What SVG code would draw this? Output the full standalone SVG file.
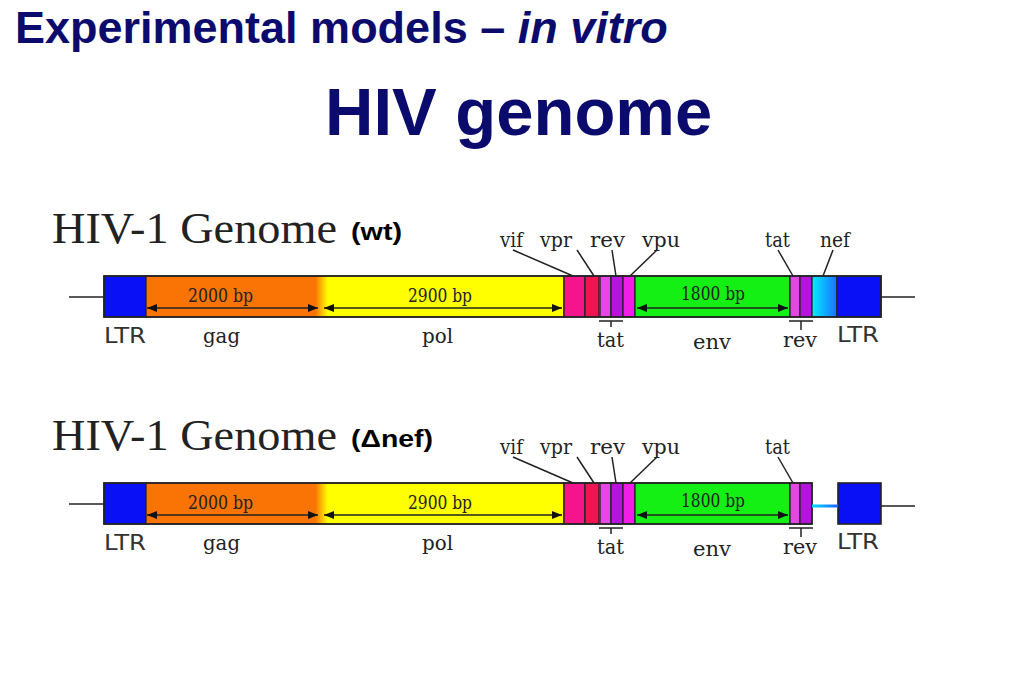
<svg xmlns="http://www.w3.org/2000/svg" width="1023" height="682" viewBox="0 0 1023 682">
<style>
.hd{font-family:"Liberation Sans",Arial,sans-serif;font-weight:bold;fill:#0b0b6e}
.gt{font-family:"Liberation Serif","Times New Roman",serif;font-size:45px;fill:#222}
.tag{font-family:"Liberation Sans",Arial,sans-serif;font-weight:bold;font-size:24px;fill:#000}
.lb{font-family:"DejaVu Serif","Liberation Serif",serif;font-size:20px;fill:#222}
.bp{font-family:"DejaVu Serif","Liberation Serif",serif;font-size:18px;fill:#222}
.ltr{font-family:"DejaVu Sans","Liberation Sans",sans-serif;font-size:22px;fill:#333}
.seg{stroke:#222;stroke-width:1.3}
.ln{stroke:#222;stroke-width:1.5;fill:none}
.arr{stroke:#222;stroke-width:1.6;fill:none;marker-start:url(#ah);marker-end:url(#ah)}
</style>
<defs>
<marker id="ah" viewBox="0 0 10 8" refX="10" refY="4" markerWidth="10" markerHeight="8" markerUnits="userSpaceOnUse" orient="auto-start-reverse">
<path d="M0,0 L10,4 L0,8 Z" fill="#111"/>
</marker>
<linearGradient id="gp" x1="146" y1="0" x2="564" y2="0" gradientUnits="userSpaceOnUse">
<stop offset="0.405" stop-color="#fa7305"/>
<stop offset="0.435" stop-color="#ffff00"/>
</linearGradient>
<linearGradient id="nefg" x1="0" y1="0" x2="1" y2="0">
<stop offset="0" stop-color="#00f0ff"/>
<stop offset="1" stop-color="#1e6eff"/>
</linearGradient>
<linearGradient id="dl" x1="812" y1="0" x2="838" y2="0" gradientUnits="userSpaceOnUse">
<stop offset="0" stop-color="#00e0ff"/>
<stop offset="1" stop-color="#2060ff"/>
</linearGradient>
</defs>
<rect width="1023" height="682" fill="#fff"/>

<g id="heading">
<text class="hd" x="15" y="43" font-size="45">Experimental models – <tspan font-style="italic">in vitro</tspan></text>
<text class="hd" x="325" y="135" font-size="67">HIV genome</text>
</g>

<!-- wild type genome -->
<g id="genome-wt">
<text class="gt" x="52" y="243" textLength="285" lengthAdjust="spacingAndGlyphs">HIV-1 Genome</text>
<text class="tag" x="351" y="240" textLength="51" lengthAdjust="spacingAndGlyphs">(wt)</text>
<g id="wt-ltr5"><rect class="seg" x="104" y="276" width="42" height="41" fill="#0a10f5"/><text class="ltr" x="104" y="343" textLength="42" lengthAdjust="spacingAndGlyphs">LTR</text></g>
<g id="wt-gagpol"><rect class="seg" x="146" y="276" width="418" height="41" fill="url(#gp)"/>
<text class="bp" x="188" y="302" textLength="65" lengthAdjust="spacingAndGlyphs">2000 bp</text>
<text class="bp" x="408" y="302" textLength="64" lengthAdjust="spacingAndGlyphs">2900 bp</text>
<text class="lb" x="203" y="343" textLength="37" lengthAdjust="spacingAndGlyphs">gag</text>
<text class="lb" x="422" y="343" textLength="31" lengthAdjust="spacingAndGlyphs">pol</text></g>
<g id="wt-vif"><rect class="seg" x="564" y="276" width="21" height="41" fill="#f5148c"/></g>
<g id="wt-vpr"><rect class="seg" x="585" y="276" width="14" height="41" fill="#f01450"/></g>
<g id="wt-tat1"><rect class="seg" x="600" y="276" width="11" height="41" fill="#e646e6"/></g>
<g id="wt-rev1"><rect class="seg" x="611" y="276" width="12" height="41" fill="#b414dc"/></g>
<g id="wt-vpu"><rect class="seg" x="623" y="276" width="12" height="41" fill="#f01ee6"/></g>
<g id="wt-env"><rect class="seg" x="635" y="276" width="155" height="41" fill="#14f014"/>
<text class="bp" x="681" y="300" textLength="64" lengthAdjust="spacingAndGlyphs">1800 bp</text>
<text class="lb" x="693" y="349" textLength="38" lengthAdjust="spacingAndGlyphs">env</text></g>
<g id="wt-tat2"><rect class="seg" x="790" y="276" width="10" height="41" fill="#e646e6"/></g>
<g id="wt-rev2"><rect class="seg" x="800" y="276" width="12" height="41" fill="#b414dc"/></g>
<g id="wt-nef"><rect class="seg" x="812" y="276" width="25" height="41" fill="url(#nefg)"/></g>
<g id="wt-ltr3"><rect class="seg" x="837" y="276" width="44" height="41" fill="#0a10f5"/><text class="ltr" x="837" y="342" textLength="42" lengthAdjust="spacingAndGlyphs">LTR</text></g>
<rect x="104" y="276" width="777" height="41" fill="none" stroke="#222" stroke-width="1.6"/>
<g id="wt-labels">
<text class="lb" x="500" y="247" textLength="23" lengthAdjust="spacingAndGlyphs">vif</text>
<text class="lb" x="540" y="247" textLength="32" lengthAdjust="spacingAndGlyphs">vpr</text>
<text class="lb" x="590" y="247" textLength="35" lengthAdjust="spacingAndGlyphs">rev</text>
<text class="lb" x="642" y="247" textLength="38" lengthAdjust="spacingAndGlyphs">vpu</text>
<text class="lb" x="765" y="247" textLength="25" lengthAdjust="spacingAndGlyphs">tat</text>
<text class="lb" x="820" y="247" textLength="30" lengthAdjust="spacingAndGlyphs">nef</text>
<text class="lb" x="597" y="347" textLength="27" lengthAdjust="spacingAndGlyphs">tat</text>
<text class="lb" x="783" y="347" textLength="34" lengthAdjust="spacingAndGlyphs">rev</text>
</g>
<g id="wt-connectors">
<line class="ln" x1="69" y1="297" x2="104" y2="297"/>
<line class="ln" x1="881" y1="297" x2="915" y2="297"/>
<path class="arr" d="M147,308 H318"/>
<path class="arr" d="M324,308 H562"/>
<path class="arr" d="M637,308 H788"/>
<path class="ln" d="M513,250 L573,276 M577,250 L594,276 M612,250 L616,276 M657,250 L630,276 M778,250 L793,276 M833,250 L823,276"/>
<path class="ln" d="M599,321 H623 M611,321 V327 M789,321 H813 M801,321 V330"/>
</g>
</g>

<!-- delta nef genome -->
<g id="genome-dnef" transform="translate(0,207)">
<text class="gt" x="52" y="243" textLength="285" lengthAdjust="spacingAndGlyphs">HIV-1 Genome</text>
<text class="tag" x="351" y="240" textLength="82" lengthAdjust="spacingAndGlyphs">(Δnef)</text>
<g id="dn-ltr5"><rect class="seg" x="104" y="276" width="42" height="41" fill="#0a10f5"/><text class="ltr" x="104" y="343" textLength="42" lengthAdjust="spacingAndGlyphs">LTR</text></g>
<g id="dn-gagpol"><rect class="seg" x="146" y="276" width="418" height="41" fill="url(#gp)"/>
<text class="bp" x="188" y="302" textLength="65" lengthAdjust="spacingAndGlyphs">2000 bp</text>
<text class="bp" x="408" y="302" textLength="64" lengthAdjust="spacingAndGlyphs">2900 bp</text>
<text class="lb" x="203" y="343" textLength="37" lengthAdjust="spacingAndGlyphs">gag</text>
<text class="lb" x="422" y="343" textLength="31" lengthAdjust="spacingAndGlyphs">pol</text></g>
<g id="dn-vif"><rect class="seg" x="564" y="276" width="21" height="41" fill="#f5148c"/></g>
<g id="dn-vpr"><rect class="seg" x="585" y="276" width="14" height="41" fill="#f01450"/></g>
<g id="dn-tat1"><rect class="seg" x="600" y="276" width="11" height="41" fill="#e646e6"/></g>
<g id="dn-rev1"><rect class="seg" x="611" y="276" width="12" height="41" fill="#b414dc"/></g>
<g id="dn-vpu"><rect class="seg" x="623" y="276" width="12" height="41" fill="#f01ee6"/></g>
<g id="dn-env"><rect class="seg" x="635" y="276" width="155" height="41" fill="#14f014"/>
<text class="bp" x="681" y="300" textLength="64" lengthAdjust="spacingAndGlyphs">1800 bp</text>
<text class="lb" x="693" y="349" textLength="38" lengthAdjust="spacingAndGlyphs">env</text></g>
<g id="dn-tat2"><rect class="seg" x="790" y="276" width="10" height="41" fill="#e646e6"/></g>
<g id="dn-rev2"><rect class="seg" x="800" y="276" width="12" height="41" fill="#b414dc"/></g>
<rect x="104" y="276" width="708" height="41" fill="none" stroke="#222" stroke-width="1.6"/>
<g id="dn-ltr3"><rect x="838" y="276" width="43" height="41" fill="#0a10f5" stroke="#222" stroke-width="1.6"/><text class="ltr" x="837" y="342" textLength="42" lengthAdjust="spacingAndGlyphs">LTR</text></g>
<g id="dn-labels">
<text class="lb" x="500" y="247" textLength="23" lengthAdjust="spacingAndGlyphs">vif</text>
<text class="lb" x="540" y="247" textLength="32" lengthAdjust="spacingAndGlyphs">vpr</text>
<text class="lb" x="590" y="247" textLength="35" lengthAdjust="spacingAndGlyphs">rev</text>
<text class="lb" x="642" y="247" textLength="38" lengthAdjust="spacingAndGlyphs">vpu</text>
<text class="lb" x="765" y="247" textLength="25" lengthAdjust="spacingAndGlyphs">tat</text>
<text class="lb" x="597" y="347" textLength="27" lengthAdjust="spacingAndGlyphs">tat</text>
<text class="lb" x="783" y="347" textLength="34" lengthAdjust="spacingAndGlyphs">rev</text>
</g>
<g id="dn-connectors">
<line class="ln" x1="69" y1="297" x2="104" y2="297"/>
<line class="ln" x1="881" y1="299" x2="915" y2="299"/>
<line x1="812" y1="299" x2="838" y2="299" stroke="url(#dl)" stroke-width="3"/>
<path class="arr" d="M147,308 H318"/>
<path class="arr" d="M324,308 H562"/>
<path class="arr" d="M637,308 H788"/>
<path class="ln" d="M513,250 L573,276 M577,250 L594,276 M612,250 L616,276 M657,250 L630,276 M778,250 L793,276"/>
<path class="ln" d="M599,321 H623 M611,321 V327 M789,321 H813 M801,321 V330"/>
</g>
</g>
</svg>
